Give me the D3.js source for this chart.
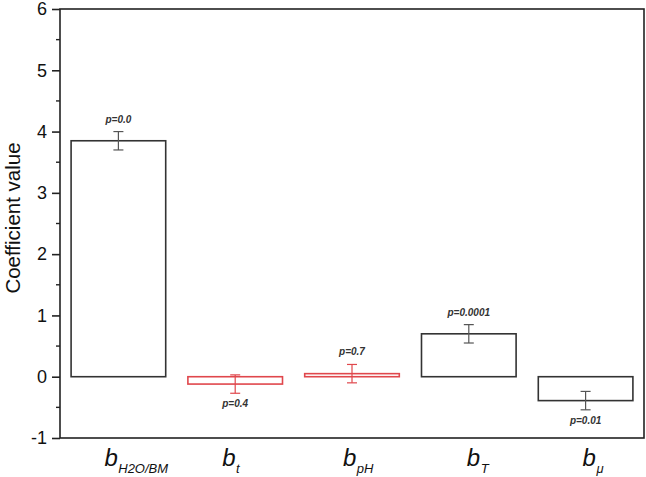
<!DOCTYPE html>
<html><head><meta charset="utf-8">
<script src="https://cdn.jsdelivr.net/npm/d3@7"></script>
<style>body{margin:0;background:#fff}svg{display:block}text{font-family:Arial,"Liberation Sans",sans-serif}</style>
</head><body><svg id="c" width="646" height="477"></svg>
<script>
const subscripts = ["H2O/BM","t","pH","T","μ"];
const values = [3.85, -0.12, 0.05, 0.70, -0.39];
const errLow = [3.70, -0.27, -0.10, 0.55, -0.54];
const errHigh = [4.00, 0.03, 0.20, 0.85, -0.24];
const pLabels = ["p=0.0","p=0.4","p=0.7","p=0.0001","p=0.01"];
const significant = [true,false,false,true,true];
const yTicks = [-1,0,1,2,3,4,5,6];

const svg = d3.select("#c");
const L=60, R=644, T=9, B=438;
const x = d3.scaleBand().domain(d3.range(values.length)).range([L,R]).paddingInner(0.19).paddingOuter(0.095);
const y = d3.scaleLinear().domain([-1,6]).range([B,T]);

// frame
svg.append("rect").attr("x",L).attr("y",T).attr("width",R-L).attr("height",B-T)
  .attr("fill","none").attr("stroke","#222").attr("stroke-width",1.6);

// y axis
const ax = svg.append("g").attr("transform",`translate(${L},0)`)
  .call(d3.axisLeft(y).tickValues(yTicks).tickFormat(d=>String(d)).tickSize(8).tickSizeOuter(0));
ax.select(".domain").remove();
ax.selectAll(".tick line").attr("stroke","#222").attr("stroke-width",1.6);
ax.selectAll(".tick text").attr("font-size",18).attr("fill","#111").attr("x",-13);
const minor = d3.range(-0.5,6,1);
svg.append("g").selectAll("line").data(minor).join("line")
  .attr("x1",L-4).attr("x2",L).attr("y1",d=>y(d)).attr("y2",d=>y(d))
  .attr("stroke","#222").attr("stroke-width",1.4);

svg.append("text").attr("transform",`translate(20,218) rotate(-90)`)
  .attr("text-anchor","middle").attr("font-size",20.5).attr("fill","#111").text("Coefficient value");

// bars
const col = i => significant[i] ? "#333" : "#e0474c";
svg.append("g").selectAll("rect").data(values).join("rect")
  .attr("x",(d,i)=>x(i)).attr("width",x.bandwidth())
  .attr("y",d=>y(Math.max(0,d))).attr("height",d=>Math.abs(y(d)-y(0)))
  .attr("fill","none").attr("stroke",(d,i)=>col(i)).attr("stroke-width",1.6);

// error bars
const eg = svg.append("g");
values.forEach((v,i)=>{
  const cx = x(i)+x.bandwidth()/2;
  const c = significant[i] ? "#555" : "#e0474c";
  eg.append("line").attr("x1",cx).attr("x2",cx).attr("y1",y(errLow[i])).attr("y2",y(errHigh[i])).attr("stroke",c).attr("stroke-width",1.2);
  [errLow[i],errHigh[i]].forEach(e=>eg.append("line").attr("x1",cx-5).attr("x2",cx+5).attr("y1",y(e)).attr("y2",y(e)).attr("stroke",c).attr("stroke-width",1.2));
  const up = v>=0;
  eg.append("text").attr("x",cx).attr("y",up? y(errHigh[i])-9 : y(errLow[i])+14)
    .attr("text-anchor","middle").attr("font-size",10).attr("font-style","italic").attr("font-weight","bold").attr("fill","#333").text(pLabels[i]);
});

// x labels
const labelShift = [-14,-13,-9,-2,-3];
const xl = svg.append("g");
subscripts.forEach((s,i)=>{
  const cx = x(i)+x.bandwidth()/2;
  const t = xl.append("text").attr("x",cx+labelShift[i]).attr("y",466).attr("font-style","italic").attr("fill","#111");
  t.append("tspan").attr("font-size",24).text("b");
  t.append("tspan").attr("font-size",13).attr("dy",7).attr("dx",0.5).text(s);
});
</script></body></html>
